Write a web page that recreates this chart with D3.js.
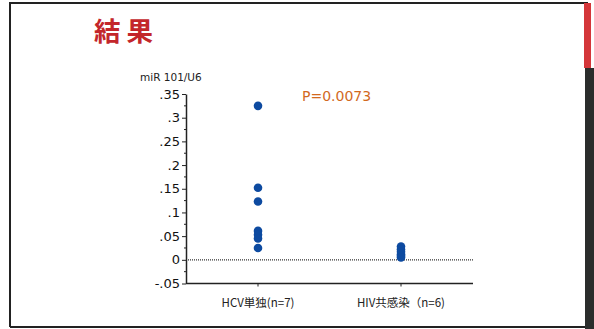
<!DOCTYPE html>
<html lang="ja">
<head>
    <meta charset="UTF-8">
    <script src="https://d3js.org/d3.v7.min.js"></script>
    <style>
        body { margin: 0; background: #fff; font-family: "DejaVu Sans", Verdana, sans-serif; }
        svg { display: block; }
    </style>
</head>
<body>
    <div id="chart"></div>
    <script>
        // データ
        const groups = ["HCV単独(n=7)", "HIV共感染（n=6)"];
        const hcvValues = [0.325, 0.152, 0.123, 0.061, 0.053, 0.045, 0.025];
        const hivValues = [0.028, 0.022, 0.017, 0.012, 0.008, 0.005];
        const yTicks = [-0.05, 0, 0.05, 0.1, 0.15, 0.2, 0.25, 0.3, 0.35];
        const yTickLabels = ["-.05", "0", ".05", ".1", ".15", ".2", ".25", ".3", ".35"];
        const pLabel = "P=0.0073";

        const width = 594, height = 329;
        const svg = d3.select("#chart").append("svg")
            .attr("width", width)
            .attr("height", height);

        // スライド枠
        svg.append("path")
            .attr("d", "M10,327 L10,3 L588,3")
            .attr("fill", "none").attr("stroke", "#222").attr("stroke-width", 2);
        svg.append("line")
            .attr("x1", 10).attr("x2", 586).attr("y1", 327).attr("y2", 327)
            .attr("stroke", "#222").attr("stroke-width", 2);
        svg.append("rect").attr("x", 585).attr("y", 68).attr("width", 9).attr("height", 261).attr("fill", "#2b2d2c");
        svg.append("rect").attr("x", 584).attr("y", 3).attr("width", 7).attr("height", 65).attr("fill", "#d4363a");

        svg.append("text")
            .attr("x", 94).attr("y", 41)
            .attr("font-family", "Noto Sans CJK JP")
            .attr("font-weight", "bold")
            .attr("font-size", 26.5)
            .attr("fill", "#c3262b")
            .text("結 果");

        const y = d3.scaleLinear().domain([-0.05, 0.35]).range([283.5, 94]);
        const x = d3.scalePoint().domain(groups).range([258, 401]);
        const left = 186, right = 473;

        // 零線（点線）
        svg.append("line")
            .attr("x1", left).attr("x2", right)
            .attr("y1", y(0)).attr("y2", y(0))
            .attr("stroke", "#333").attr("stroke-width", 1.2)
            .attr("stroke-dasharray", "1,1");

        // Y軸
        const yAxis = svg.append("g")
            .attr("transform", `translate(${left},0)`)
            .call(d3.axisLeft(y).tickValues(yTicks)
                .tickFormat((d, i) => yTickLabels[i])
                .tickSize(4).tickSizeOuter(0));
        yAxis.select(".domain").attr("stroke", "#222").attr("stroke-width", 1.5);
        yAxis.selectAll(".tick line").attr("stroke", "#222");
        yAxis.selectAll("text")
            .attr("font-family", "Verdana, DejaVu Sans, sans-serif")
            .attr("font-size", 13).attr("fill", "#111").attr("x", -6);

        // 補助目盛
        const minor = d3.range(-0.025, 0.35, 0.05);
        svg.append("g").selectAll("line").data(minor).enter().append("line")
            .attr("x1", left - 2).attr("x2", left)
            .attr("y1", d => y(d)).attr("y2", d => y(d))
            .attr("stroke", "#222");

        // X軸
        svg.append("line")
            .attr("x1", left).attr("x2", right)
            .attr("y1", y(-0.05)).attr("y2", y(-0.05))
            .attr("stroke", "#222").attr("stroke-width", 1.5);
        svg.append("g").selectAll("line").data(groups).enter().append("line")
            .attr("x1", d => x(d)).attr("x2", d => x(d))
            .attr("y1", y(-0.05)).attr("y2", y(-0.05) + 3)
            .attr("stroke", "#222");
        svg.append("g").selectAll("text").data(groups).enter().append("text")
            .attr("x", d => x(d)).attr("y", 307)
            .attr("text-anchor", "middle")
            .attr("font-family", "Noto Sans CJK JP")
            .attr("font-size", 11.5).attr("fill", "#222")
            .text(d => d);

        svg.append("text")
            .attr("x", 140).attr("y", 81)
            .attr("font-family", "Verdana, DejaVu Sans, sans-serif")
            .attr("font-size", 10.5).attr("fill", "#222")
            .text("miR 101/U6");

        svg.append("text")
            .attr("x", 302).attr("y", 101)
            .attr("font-family", "Verdana, DejaVu Sans, sans-serif")
            .attr("font-size", 14).attr("fill", "#d2691e")
            .text(pLabel);

        // 点
        const pts = hcvValues.map(v => ({ g: groups[0], v }))
            .concat(hivValues.map(v => ({ g: groups[1], v })));
        svg.append("g").selectAll("circle").data(pts).enter().append("circle")
            .attr("cx", d => x(d.g)).attr("cy", d => y(d.v))
            .attr("r", 4.3)
            .attr("fill", "#0d4aa0");
    </script>
</body>
</html>
